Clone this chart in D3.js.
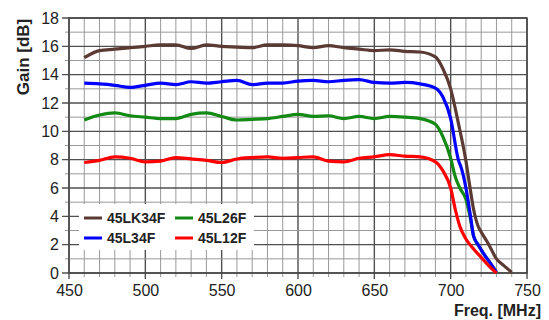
<!DOCTYPE html>
<html><head><meta charset="utf-8">
<script src="https://cdn.jsdelivr.net/npm/d3@7"></script>
<style>body{margin:0;background:#fff}svg{display:block}</style>
</head><body>
<script>
const flatFreq = [460,470,480,490,500,510,520,530,540,550,560,570,580,590,600,610,620,630,640,650,660,670,680,690];

const brownX = flatFreq.concat([695,700,705,710,712,715,718,720,725,730,735,740]);
const brownY = [15.2,15.7,15.8,15.9,16.0,16.1,16.1,15.85,16.1,16.0,15.95,15.9,16.1,16.1,16.05,15.9,16.05,15.9,15.8,15.7,15.75,15.65,15.6,15.25,
                14.4,13.0,10.6,7.9,6.5,4.5,3.3,2.9,2.0,1.0,0.5,0.05];

const blueX = flatFreq.concat([695,700,705,707,710,713,715,718,722,726,730]);
const blueY = [13.4,13.35,13.25,13.1,13.25,13.4,13.3,13.5,13.4,13.5,13.6,13.3,13.4,13.4,13.55,13.6,13.5,13.6,13.65,13.45,13.4,13.45,13.35,13.05,
               12.4,10.9,8.0,7.4,6.0,4.0,2.6,2.0,1.3,0.7,0.05];

const greenX = flatFreq.concat([695,700,703,706,710,713,715,718,722,726,730]);
const greenY = [10.8,11.15,11.3,11.1,11.0,10.9,10.9,11.2,11.3,11.05,10.8,10.85,10.9,11.05,11.2,11.05,11.1,10.9,11.05,10.9,11.05,11.0,10.9,10.5,
                9.6,8.1,6.8,6.0,5.2,3.8,2.6,2.0,1.3,0.7,0.05];

const redX = flatFreq.concat([695,700,703,706,710,715,720,725,730]);
const redY = [7.8,7.95,8.2,8.1,7.85,7.9,8.15,8.05,7.95,7.8,8.05,8.15,8.2,8.1,8.15,8.2,7.9,7.85,8.1,8.2,8.35,8.25,8.2,7.85,
              7.2,6.0,4.5,3.3,2.4,1.7,1.1,0.5,0.0];

const seriesNames = ["45LK34F","45L34F","45L26F","45L12F"];
const seriesColors = ["#5b3a33","#0000ff","#138a13","#ff0000"];
const xTicks = [450,500,550,600,650,700,750];
const yTicks = [0,2,4,6,8,10,12,14,16,18];

const W = 549, H = 320;
const m = {l:69, t:18, r:22, b:47};
const svg = d3.select("body").append("svg").attr("width",W).attr("height",H);
const x = d3.scaleLinear().domain([450,750]).range([m.l, W-m.r]);
const y = d3.scaleLinear().domain([0,18]).range([H-m.b, m.t]);

const g = svg.append("g");
d3.range(450,751,10).forEach(v=>{
  const major = v%50===0;
  g.append("line").attr("x1",x(v)).attr("x2",x(v)).attr("y1",y(18)).attr("y2",y(0)+(major?6:4))
   .attr("stroke",major?"#505050":"#999").attr("stroke-width",major?1.4:1);
});
d3.range(0,19,1).forEach(v=>{
  const major = v%2===0;
  g.append("line").attr("x1",x(450)-(major?7:4)).attr("x2",x(750)).attr("y1",y(v)).attr("y2",y(v))
   .attr("stroke",major?"#505050":"#999").attr("stroke-width",major?1.4:1);
});
g.append("rect").attr("x",x(450)).attr("y",y(18)).attr("width",x(750)-x(450)).attr("height",y(0)-y(18))
 .attr("fill","none").attr("stroke","#444").attr("stroke-width",1.4);

const xAxis = svg.append("g").attr("transform",`translate(0,${y(0)})`)
  .call(d3.axisBottom(x).tickValues(xTicks).tickSize(0).tickPadding(12));
const yAxis = svg.append("g").attr("transform",`translate(${x(450)},0)`)
  .call(d3.axisLeft(y).tickValues(yTicks).tickSize(0).tickPadding(10));
[xAxis,yAxis].forEach(a=>{
  a.select(".domain").remove();
  a.selectAll("text").attr("font-family","Liberation Sans, Arial, sans-serif").attr("font-size",16).attr("fill","#222");
});

const data = [[brownX,brownY],[greenX,greenY],[blueX,blueY],[redX,redY]];
const colorOrder = [0,2,1,3];
const line = d3.line().x(d=>x(d[0])).y(d=>y(d[1])).curve(d3.curveMonotoneX);
data.forEach((s,i)=>{
  const pts = s[0].map((v,j)=>[v,s[1][j]]);
  svg.append("path").datum(pts).attr("d",line).attr("fill","none")
    .attr("stroke",seriesColors[colorOrder[i]]).attr("stroke-width",3.2).attr("stroke-linejoin","round");
});

const lg = svg.append("g");
lg.append("rect").attr("x",79).attr("y",204).attr("width",175).attr("height",46).attr("fill","#fff");
const pos = [[84,218],[84,238],[175,218],[175,238]];
seriesNames.forEach((n,i)=>{
  const [px,py] = pos[i];
  lg.append("line").attr("x1",px).attr("x2",px+18).attr("y1",py).attr("y2",py)
    .attr("stroke",seriesColors[i]).attr("stroke-width",3);
  lg.append("text").attr("x",px+23).attr("y",py+5).text(n)
    .attr("font-family","Liberation Sans, Arial, sans-serif").attr("font-weight","bold").attr("font-size",14).attr("fill","#222");
});

svg.append("text").attr("transform",`translate(29,57) rotate(-90)`).attr("text-anchor","middle")
  .attr("font-family","Liberation Sans, Arial, sans-serif").attr("font-weight","bold").attr("font-size",17).attr("fill","#222")
  .text("Gain [dB]");
svg.append("text").attr("x",541).attr("y",316).attr("text-anchor","end")
  .attr("font-family","Liberation Sans, Arial, sans-serif").attr("font-weight","bold").attr("font-size",16).attr("fill","#222")
  .text("Freq. [MHz]");
</script>
</body></html>
